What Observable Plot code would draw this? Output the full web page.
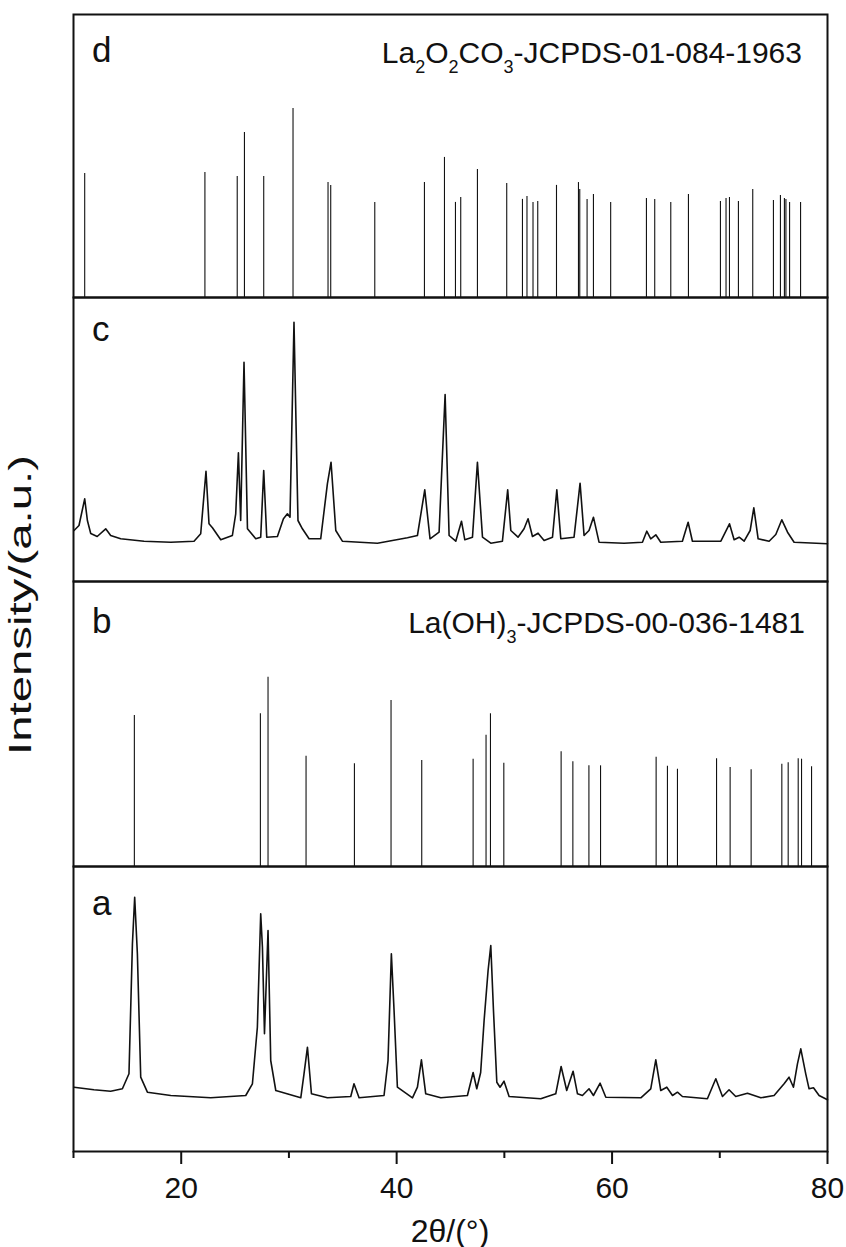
<!DOCTYPE html>
<html><head><meta charset="utf-8">
<script src="https://cdn.jsdelivr.net/npm/d3@7"></script>
<script src="https://cdn.jsdelivr.net/npm/@observablehq/plot@0.6"></script>
<style>
body{margin:0;background:#fff;}
#chart{position:relative;width:846px;height:1247px;font-family:"Liberation Sans",Arial,sans-serif;background:#fff;}
#chart svg{position:absolute;left:0;overflow:visible;}
</style></head><body><div id="chart"></div>
<script>
// ---- data ----
// panel d: La2O2CO3 reference pattern (JCPDS 01-084-1963), 2θ and relative intensity
const refLa2O2CO3_2theta = [11.04,22.2,25.2,25.87,27.66,30.38,33.63,33.88,37.97,42.58,44.44,45.46,45.95,47.5,50.22,51.68,52.1,52.66,53.1,54.84,56.88,57.0,57.68,58.27,59.87,63.19,63.96,65.45,67.09,70.06,70.58,70.9,71.73,73.06,74.98,75.63,76.0,76.14,76.48,77.5];
const refLa2O2CO3_intensity = [65.6,66.1,64,87.3,64,100,60.8,59.3,50.3,60.8,74.1,50.3,52.9,67.7,60.3,51.9,53.4,50.3,50.8,59.3,60.8,57.1,51.9,54.5,50.3,52.4,51.9,50.3,54.5,50.8,52.4,52.9,50.8,57.1,51.3,54,52.4,51.9,50.3,50.3];
// panel c: measured pattern
const sampleC_2theta = [10.05,10.51,11.04,11.29,11.6,12.2,12.99,13.45,14.38,16.55,19.03,21.19,21.81,22.3,22.58,22.9,23.67,24.75,25.06,25.31,25.52,25.83,26.15,26.92,27.38,27.66,27.94,28.93,29.49,29.86,30.1,30.47,30.84,31.25,31.87,32.95,33.57,33.91,34.35,34.96,38.22,41.0,41.93,42.61,43.1,43.94,44.5,44.87,45.49,46.02,46.33,47.04,47.5,47.97,48.74,49.82,50.31,50.6,51.27,51.83,52.2,52.61,53.13,53.69,54.47,54.87,55.24,56.47,57.03,57.4,57.86,58.27,58.79,61.11,62.82,63.22,63.59,64.06,64.52,66.53,67.06,67.46,70.1,70.9,71.33,71.8,72.26,72.82,73.16,73.56,74.58,75.2,75.76,76.29,76.9,80];
const sampleC_intensity = [510,560,827,610,480,450,527,460,427,403,393,403,477,1103,577,537,417,460,677,1287,610,2193,527,427,443,1110,443,450,627,677,643,2593,610,527,427,427,977,1193,510,403,383,437,460,917,427,493,1870,460,403,603,417,443,1193,443,383,403,917,510,443,527,627,450,483,410,443,917,427,443,983,460,510,643,393,383,393,503,427,467,393,403,593,403,403,577,417,443,403,510,737,427,403,470,617,493,393,377];
// panel b: La(OH)3 reference pattern (JCPDS 00-036-1481)
const refLaOH3_2theta = [15.65,27.35,28.06,31.59,36.08,39.48,42.33,47.1,48.3,48.71,49.95,55.27,56.36,57.85,58.93,64.09,65.14,66.07,69.7,70.96,72.91,75.76,76.35,77.28,77.59,78.52];
const refLaOH3_intensity = [79.8,80.7,100,58.3,54.3,87.7,56,56.7,69.4,80.7,54.6,60.6,55.3,53.2,53.2,57.7,53,51.4,56.9,52.3,51.1,54,54.8,57,56.7,52.7];
// panel a: measured pattern
const sampleA_2theta = [10.05,11.9,13.45,14.54,15.15,15.47,15.68,15.93,16.24,16.86,19.03,22.74,25.99,26.61,27.07,27.38,27.54,27.73,28.06,28.31,28.78,31.1,31.4,31.72,32.09,33.57,35.74,36.04,36.51,38.83,39.2,39.51,39.76,40.07,41.47,41.93,42.3,42.7,44.1,46.57,47.1,47.44,47.8,48.12,48.49,48.74,48.99,49.3,49.6,49.97,50.44,53.38,54.77,55.27,55.79,56.38,56.79,57.25,57.86,58.27,58.89,59.42,62.67,63.59,64.06,64.52,65.08,65.61,66.07,66.53,68.85,69.63,70.25,70.86,71.48,72.57,73.81,75.04,75.97,76.43,76.84,77.21,77.52,77.98,78.29,78.7,79.22,80];
const sampleA_intensity = [643,617,603,627,777,2077,2543,1977,743,593,560,537,560,677,1243,2377,2043,1177,2210,910,610,537,777,1043,577,537,550,677,537,560,910,1977,1410,643,537,643,917,577,537,560,790,627,790,1310,1810,2060,1410,693,643,703,550,527,577,850,610,803,577,560,627,560,683,543,537,627,917,610,643,560,593,550,527,727,550,617,550,583,537,560,677,743,643,877,1027,777,627,637,560,517];

const panelLetters = ["d","c","b","a"];
const xTicks = [20,40,60,80];
const xMinorTicks = [10,30,50,70];
const xLabel = "2θ/(°)";
const yLabel = "Intensity/(a.u.)";

// ---- build ----
const zip = (xs, ys) => xs.map((t, k) => ({t, i: ys[k]}));
const panels = [
  {key:"d", top:14,  bottom:297,  type:"stick", data: zip(refLa2O2CO3_2theta, refLa2O2CO3_intensity), ymax:149.7},
  {key:"c", top:297, bottom:581,  type:"line",  data: zip(sampleC_2theta, sampleC_intensity), ymax:2840},
  {key:"b", top:581, bottom:866,  type:"stick", data: zip(refLaOH3_2theta, refLaOH3_intensity), ymax:150.6},
  {key:"a", top:866, bottom:1151, type:"line",  data: zip(sampleA_2theta, sampleA_intensity), ymax:2850}
];

const chart = document.getElementById("chart");
const W = 846, mL = 73, mR = 19;
const ink = "#111";

panels.forEach((p, idx) => {
  const last = idx === panels.length - 1;
  const mT = 2, mB = last ? 96 : 2;
  const h = p.bottom - p.top;
  const marks = [];
  if (p.type === "stick") {
    marks.push(Plot.ruleX(p.data, {x: "t", y1: 0, y2: "i", stroke: ink, strokeWidth: 1.1}));
  } else {
    marks.push(Plot.line(p.data, {x: "t", y: "i", stroke: ink, strokeWidth: 1.6}));
  }
  marks.push(Plot.frame({stroke: ink, strokeWidth: 2}));
  if (last) {
    marks.push(Plot.axisX({ticks: xTicks, tickSize: 13, tickPadding: 12, strokeWidth: 2, tickFormat: d => String(d), fontSize: 30, label: null}));
    marks.push(Plot.axisX({ticks: xMinorTicks, tickSize: 7, strokeWidth: 2, tickFormat: () => "", label: null}));
  }
  const svg = Plot.plot({
    width: W, height: h + mT + mB,
    marginLeft: mL, marginRight: mR, marginTop: mT, marginBottom: mB,
    x: {domain: [10, 80], axis: last ? undefined : null, label: null},
    y: {domain: [0, p.ymax], axis: null},
    style: {fontFamily: '"Liberation Sans", Arial, sans-serif', fontSize: "30px", color: ink, background: "transparent"},
    marks
  });
  svg.style.top = (p.top - mT) + "px";
  chart.appendChild(svg);
});

// ---- text overlay ----
const ov = d3.select(chart).append("svg")
  .attr("width", W).attr("height", 1247)
  .style("top", "0px").style("pointer-events", "none")
  .style("font-family", '"Liberation Sans", Arial, sans-serif').attr("fill", ink);

const letterBaselines = [62, 341, 633, 915];
panelLetters.forEach((l, k) => {
  ov.append("text").attr("x", 92).attr("y", letterBaselines[k]).attr("font-size", 35).text(l);
});

function formula(x, y, parts) {
  const t = ov.append("text").attr("x", x).attr("y", y).attr("text-anchor", "end").attr("font-size", 30);
  let shift = 0;
  parts.forEach(([s, sub]) => {
    const target = sub ? 10 : 0;
    const sp = t.append("tspan").attr("dy", target - shift).text(s);
    if (sub) sp.attr("font-size", 18);
    shift = target;
  });
}
formula(802, 63, [["La"],["2",1],["O"],["2",1],["CO"],["3",1],["-JCPDS-01-084-1963"]]);
formula(805, 633, [["La(OH)"],["3",1],["-JCPDS-00-036-1481"]]);

ov.append("text").attr("x", 450).attr("y", 1242).attr("text-anchor", "middle").attr("font-size", 32).text(xLabel);

ov.append("text").attr("transform", "translate(31,605) rotate(-90)")
  .attr("text-anchor", "middle").attr("font-size", 32)
  .attr("textLength", 300).attr("lengthAdjust", "spacingAndGlyphs").text(yLabel);
</script></body></html>
